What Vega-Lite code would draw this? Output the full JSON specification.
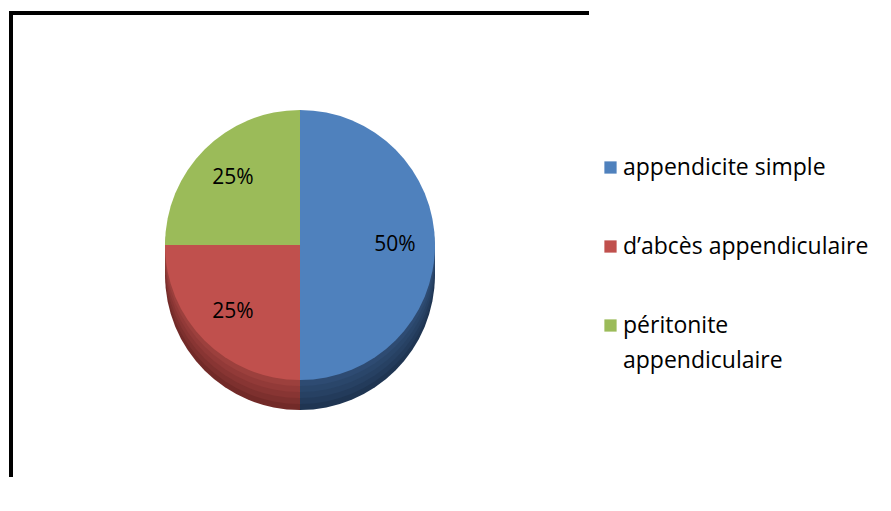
{
  "$schema": "https://vega.github.io/schema/vega-lite/v6.json",
  "autosize": "none",
  "width": 578,
  "height": 464,
  "padding": {"left": 11, "top": 13, "right": 302, "bottom": 34},
  "background": "white",
  "view": {"stroke": "black", "strokeWidth": 4, "strokeDash": [578, 1042, 464]},
  "config": {
    "font": "Open Sans",
    "style": {"guide-label": {"lineHeight": 35}}
  },
  "data": {
    "values": [
      {"cat": "appendicite simple", "pct": 50, "ord": 1, "label": "50%"},
      {"cat": "d’abcès appendiculaire", "pct": 25, "ord": 2, "label": "25%"},
      {"cat": "péritonite appendiculaire", "pct": 25, "ord": 3, "label": "25%"}
    ]
  },
  "encoding": {
    "theta": {"field": "pct", "type": "quantitative", "stack": true},
    "order": {"field": "ord", "type": "quantitative"}
  },
  "layer": [
    {
      "mark": {"type": "arc", "radius": 135, "yOffset": 30},
      "encoding": {"color": {"condition": [{"test": "datum.ord == 1", "value": "#1f3552"}, {"test": "datum.ord == 2", "value": "#722a28"}], "value": "#5f7833"}}
    },
    {
      "mark": {"type": "arc", "radius": 135, "yOffset": 24},
      "encoding": {"color": {"condition": [{"test": "datum.ord == 1", "value": "#233b5b"}, {"test": "datum.ord == 2", "value": "#7d302e"}], "value": "#5f7833"}}
    },
    {
      "mark": {"type": "arc", "radius": 135, "yOffset": 18},
      "encoding": {"color": {"condition": [{"test": "datum.ord == 1", "value": "#274163"}, {"test": "datum.ord == 2", "value": "#883533"}], "value": "#5f7833"}}
    },
    {
      "mark": {"type": "arc", "radius": 135, "yOffset": 12},
      "encoding": {"color": {"condition": [{"test": "datum.ord == 1", "value": "#2a466a"}, {"test": "datum.ord == 2", "value": "#923a38"}], "value": "#5f7833"}}
    },
    {
      "mark": {"type": "arc", "radius": 135, "yOffset": 6},
      "encoding": {"color": {"condition": [{"test": "datum.ord == 1", "value": "#2e4b72"}, {"test": "datum.ord == 2", "value": "#9c403d"}], "value": "#5f7833"}}
    },
    {
      "mark": {"type": "arc", "radius": 135},
      "encoding": {
        "color": {
          "field": "cat",
          "type": "nominal",
          "scale": {
            "domain": ["appendicite simple", "d’abcès appendiculaire", "péritonite appendiculaire"],
            "range": ["#4f81bd", "#c0504d", "#9bbb59"]
          },
          "legend": {
            "title": null,
            "orient": "none",
            "legendX": 588,
            "legendY": 143,
            "padding": 0,
            "symbolType": "square",
            "symbolSize": 150,
            "symbolStrokeWidth": 0,
            "labelFontSize": 23,
            "labelFont": "Open Sans",
            "labelColor": "black",
            "labelLimit": 400,
            "labelOffset": 1,
            "rowPadding": 55,
            "labelExpr": "datum.label == 'péritonite appendiculaire' ? ['péritonite', 'appendiculaire'] : datum.label"
          }
        }
      }
    },
    {
      "mark": {"type": "text", "radius": 95, "fontSize": 21, "color": "black", "font": "Open Sans"},
      "encoding": {"text": {"field": "label", "type": "nominal"}}
    }
  ]
}
